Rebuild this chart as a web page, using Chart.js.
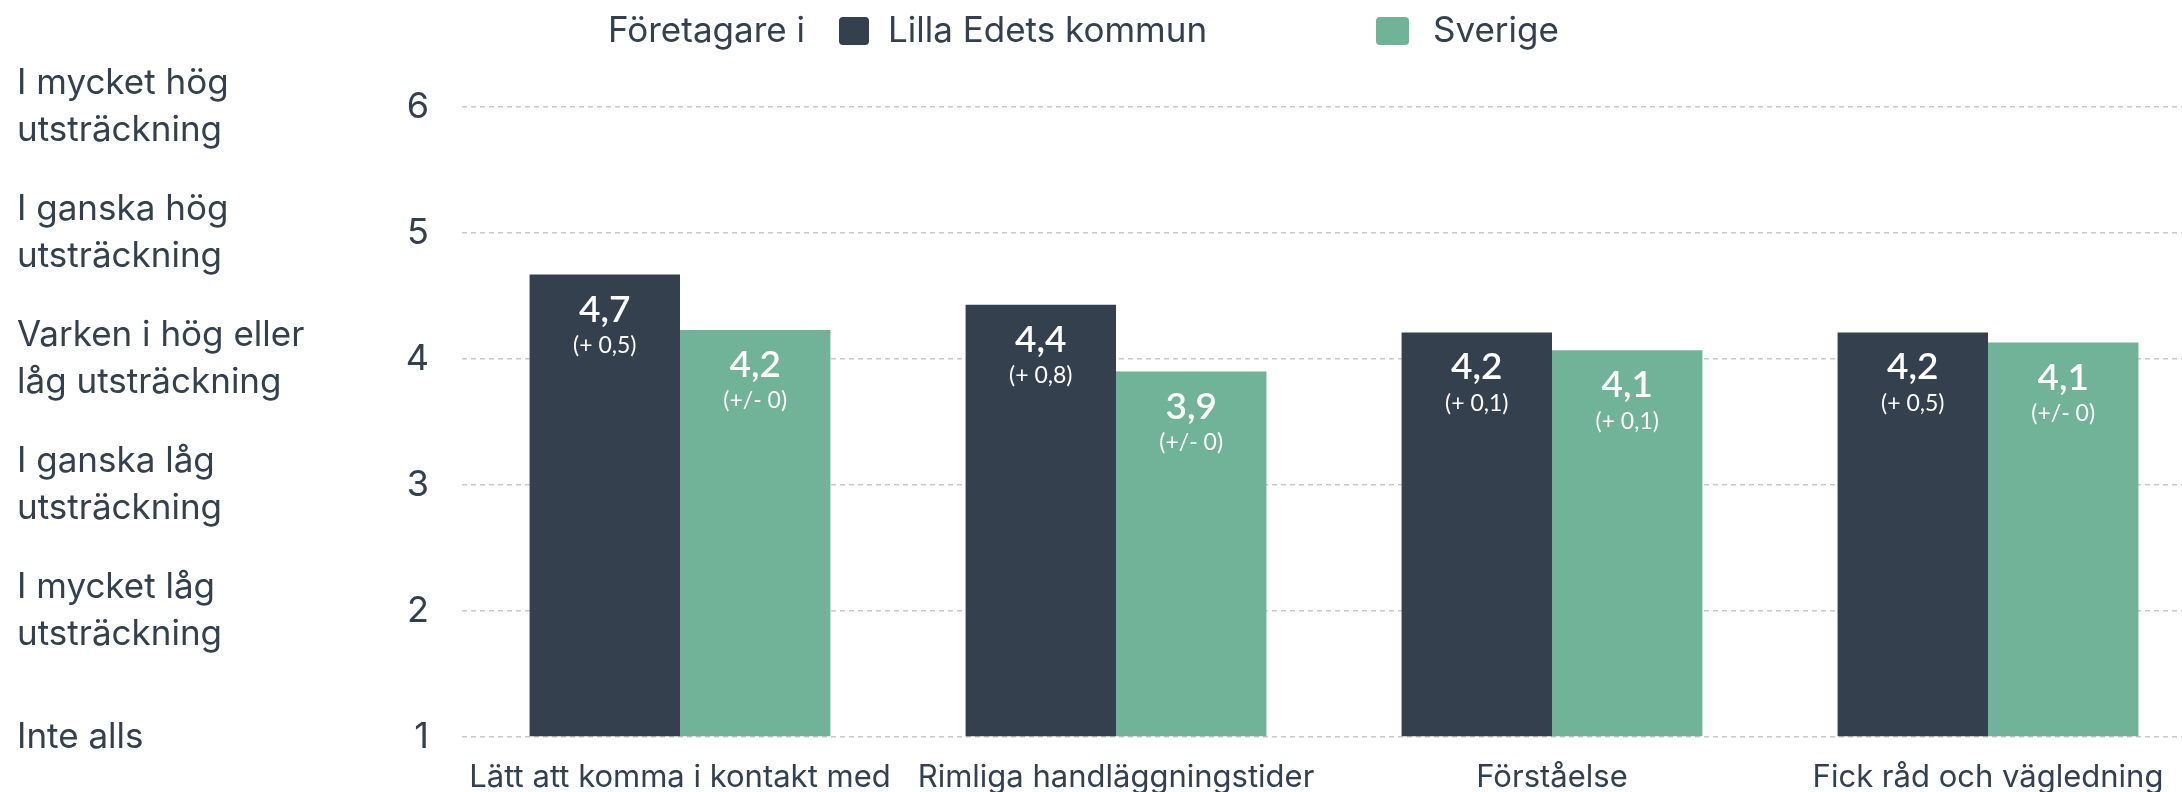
<!DOCTYPE html>
<html>
<head>
<meta charset="utf-8">
<script src="https://cdn.jsdelivr.net/npm/chart.js@4"></script>
<style>
  html, body { margin: 0; padding: 0; background: #fff; overflow: hidden; }
  #wrap { width: 2210px; height: 792px; }
</style>
</head>
<body>
<div id="wrap"><canvas id="myChart"></canvas></div>
<script>
  // data
  const categories = ['Lätt att komma i kontakt med', 'Rimliga handläggningstider', 'Förståelse', 'Fick råd och vägledning'];
  const seriesNames = ['Lilla Edets kommun', 'Sverige'];
  const kommunValues = [4.67, 4.43, 4.21, 4.21];
  const sverigeValues = [4.23, 3.90, 4.07, 4.13];
  const kommunChange = ['(+ 0,5)', '(+ 0,8)', '(+ 0,1)', '(+ 0,5)'];
  const sverigeChange = ['(+/- 0)', '(+/- 0)', '(+ 0,1)', '(+/- 0)'];
  const scaleTicks = [1, 2, 3, 4, 5, 6];
  const scaleLabels = [
    ['Inte alls'],
    ['I mycket låg', 'utsträckning'],
    ['I ganska låg', 'utsträckning'],
    ['Varken i hög eller', 'låg utsträckning'],
    ['I ganska hög', 'utsträckning'],
    ['I mycket hög', 'utsträckning']
  ];
  const legendPrefix = 'Företagare i';

  const textColor = '#34404e';
  const colors = ['#34404e', '#71b398'];
  const FONT = 'Inter, "Noto Sans", sans-serif';

  // value + change labels inside the bars
  const barLabels = {
    id: 'barLabels',
    afterDatasetsDraw(chart) {
      const ctx = chart.ctx;
      const changes = [kommunChange, sverigeChange];
      ctx.save();
      ctx.fillStyle = '#ffffff';
      ctx.textAlign = 'center';
      ctx.textBaseline = 'middle';
      chart.data.datasets.forEach((ds, di) => {
        chart.getDatasetMeta(di).data.forEach((bar, i) => {
          const v = ds.data[i].toFixed(1).replace('.', ',');
          ctx.font = '600 37px Lato, ' + FONT;
          ctx.fillText(v, bar.x, bar.y + 35);
          ctx.font = '23px Lato, ' + FONT;
          ctx.fillText(changes[di][i], bar.x, bar.y + 71);
        });
      });
      ctx.restore();
    }
  };

  // legend row: "Företagare i  ■ Lilla Edets kommun    ■ Sverige"
  const topLegend = {
    id: 'topLegend',
    afterDraw(chart) {
      const ctx = chart.ctx;
      const y = 31;
      const boxX = [839, 1376];
      const boxW = [30, 33];
      const textX = [888, 1433];
      ctx.save();
      ctx.font = '35px ' + FONT;
      ctx.textBaseline = 'middle';
      ctx.fillStyle = textColor;
      ctx.textAlign = 'left';
      ctx.fillText(legendPrefix, 608, y);
      chart.data.datasets.forEach((ds, i) => {
        ctx.fillStyle = ds.backgroundColor;
        ctx.beginPath();
        ctx.roundRect(boxX[i], y - 14, boxW[i], 28, 4);
        ctx.fill();
        ctx.fillStyle = textColor;
        ctx.fillText(ds.label, textX[i], y);
      });
      ctx.restore();
    }
  };

  const ctx = document.getElementById('myChart');

  new Chart(ctx, {
    type: 'bar',
    data: {
      labels: categories,
      datasets: [
        { label: seriesNames[0], data: kommunValues, backgroundColor: colors[0] },
        { label: seriesNames[1], data: sverigeValues, backgroundColor: colors[1] }
      ]
    },
    options: {
      responsive: true,
      maintainAspectRatio: false,
      animation: false,
      layout: { padding: { left: 17, top: 107, right: 4, bottom: 0 } },
      datasets: { bar: { categoryPercentage: 0.69, barPercentage: 1, base: 1 } },
      plugins: {
        legend: { display: false },
        tooltip: { enabled: false }
      },
      scales: {
        x: {
          grid: { display: false },
          border: { display: false },
          ticks: {
            color: textColor,
            font: { family: FONT, size: 31 },
            padding: 14,
            maxRotation: 0,
            autoSkip: false
          },
          afterFit(s) { s.height = 55; }
        },
        y: {
          min: 1,
          max: 6,
          weight: 1,
          afterBuildTicks(s) { s.ticks = scaleTicks.map(v => ({ value: v })); },
          grid: { color: '#c9c9c9', lineWidth: 1.5, drawTicks: false },
          border: { display: false, dash: [5, 4] },
          ticks: {
            color: textColor,
            font: { family: FONT, size: 36 },
            padding: 33
          },
          afterFit(s) { s.width = 65; }
        },
        yText: {
          position: 'left',
          min: 1,
          max: 6,
          weight: 2,
          afterBuildTicks(s) { s.ticks = scaleTicks.map(v => ({ value: v })); },
          grid: { display: false, drawTicks: false },
          border: { display: false },
          ticks: {
            color: textColor,
            font: { family: FONT, size: 35, lineHeight: 1.34 },
            crossAlign: 'far',
            padding: 0,
            callback: (v) => scaleLabels[scaleTicks.indexOf(v)]
          },
          afterFit(s) { s.width = 380; }
        }
      }
    },
    plugins: [barLabels, topLegend]
  });
</script>
</body>
</html>
